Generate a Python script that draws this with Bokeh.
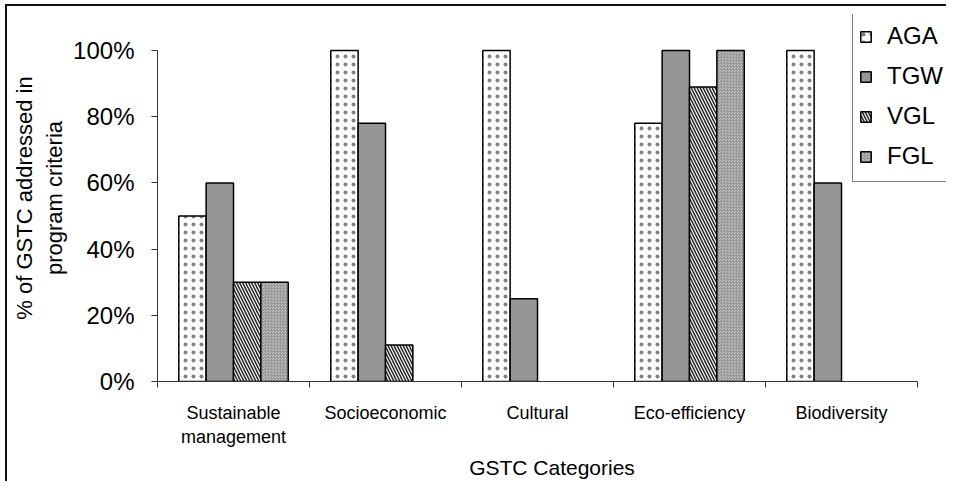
from bokeh.plotting import figure
from bokeh.models import ColumnDataSource, Range1d, FixedTicker, NumeralTickFormatter, Legend, LegendItem
from bokeh.embed import file_html
from bokeh.resources import INLINE

categories = ["Sustainable\nmanagement", "Socioeconomic", "Cultural", "Eco-efficiency", "Biodiversity"]
series = ["AGA", "TGW", "VGL", "FGL"]
aga = [0.50, 1.00, 1.00, 0.78, 1.00]
tgw = [0.60, 0.78, 0.25, 1.00, 0.60]
vgl = [0.30, 0.11, 0.00, 0.89, 0.00]
fgl = [0.30, 0.00, 0.00, 1.00, 0.00]
y_ticks = [0, 0.2, 0.4, 0.6, 0.8, 1.0]

values = [aga, tgw, vgl, fgl]
offsets = [-0.27, -0.09, 0.09, 0.27]
bar_w = 0.18
FONT = "Liberation Sans"

OX, OY = 5, 4                      # offset of the chart box
W, H = 941, 477
FL, FT, FB = 157 - OX, 14 - OY, 381 - OY   # frame left / top / bottom (canvas px)
PX_X, PX_Y = 152.0, 331.0          # pixels per category / per 100%

styles = [
    dict(fill_color="white", hatch_pattern=".", hatch_color="#808080", hatch_scale=8, hatch_weight=1),
    dict(fill_color="#969696"),
    dict(fill_color="white", hatch_pattern="\\", hatch_color="#222222", hatch_scale=6, hatch_weight=1.5),
    dict(fill_color="#c8c8c8", hatch_pattern="*", hatch_color="#9a9a9a", hatch_scale=3, hatch_weight=1),
]

p = figure(width=W, height=H, output_backend="svg", toolbar_location=None,
           x_range=Range1d(0, (W - FL) / PX_X), y_range=Range1d(0, (FB - FT) / PX_Y),
           min_border_left=FL, min_border_right=0, min_border_top=FT, min_border_bottom=H - FB)
p.border_fill_color = None
p.background_fill_color = "white"
p.outline_line_color = None
p.styles = {"margin-left": f"{OX}px", "margin-top": f"{OY}px",
            "box-shadow": "inset 2px 2px 0 0 #111111"}
p.xgrid.visible = False
p.ygrid.visible = False

items = []
for name, vals, off, st in zip(series, values, offsets, styles):
    xs = [i + 0.5 + off for i, v in enumerate(vals) if v > 0]
    hs = [v for v in vals if v > 0]
    src = ColumnDataSource(dict(x=xs, top=hs))
    r = p.vbar(x="x", top="top", width=bar_w, source=src, line_color="black", line_width=1.5, **st)
    items.append(LegendItem(label=name, renderers=[r]))

# y axis
ya = p.yaxis[0]
ya.bounds = (0, 1)
ya.ticker = FixedTicker(ticks=y_ticks)
ya.formatter = NumeralTickFormatter(format="0%")
ya.major_label_text_font = FONT
ya.major_label_text_font_size = "24px"
ya.major_label_text_color = "black"
ya.major_tick_out = 6
ya.major_tick_in = 0
ya.minor_tick_line_color = None
ya.major_label_standoff = 17
ya.axis_line_color = "#333333"
ya.major_tick_line_color = "#333333"
ya.axis_label = "% of GSTC addressed in\nprogram criteria"
ya.axis_label_text_font = FONT
ya.axis_label_text_font_size = "22px"
ya.axis_label_text_font_style = "normal"
ya.axis_label_text_color = "black"
ya.axis_label_standoff = 3

# x axis
xa = p.xaxis[0]
xa.bounds = (0, len(categories))
xa.ticker = FixedTicker(ticks=[i + 0.5 for i in range(len(categories))],
                        minor_ticks=list(range(len(categories) + 1)))
xa.major_label_overrides = {i + 0.5: c for i, c in enumerate(categories)}
xa.major_tick_line_color = None
xa.major_tick_out = 0
xa.major_tick_in = 0
xa.minor_tick_out = 6
xa.minor_tick_in = 0
xa.minor_tick_line_color = "#333333"
xa.axis_line_color = "#333333"
xa.major_label_text_font = FONT
xa.major_label_text_font_size = "18px"
xa.major_label_text_color = "black"
xa.major_label_standoff = 15
xa.axis_label = "GSTC Categories"
xa.axis_label_text_font = FONT
xa.axis_label_text_font_size = "21px"
xa.axis_label_text_font_style = "normal"
xa.axis_label_text_color = "black"
xa.axis_label_standoff = 6

legend = Legend(items=items, location=(852 - OX - FL, FB - (182 - OY)))
legend.label_text_font = FONT
legend.label_text_font_size = "24px"
legend.label_text_color = "black"
legend.glyph_width = 13
legend.glyph_height = 13
legend.label_standoff = 15
legend.label_height = 38
legend.label_width = 90
legend.spacing = 2
legend.padding = 6
legend.margin = 0
legend.border_line_color = "black"
legend.border_line_width = 1
legend.background_fill_color = "white"
legend.background_fill_alpha = 1
p.add_layout(legend, "center")

open("out.html", "w").write(file_html(p, INLINE))
